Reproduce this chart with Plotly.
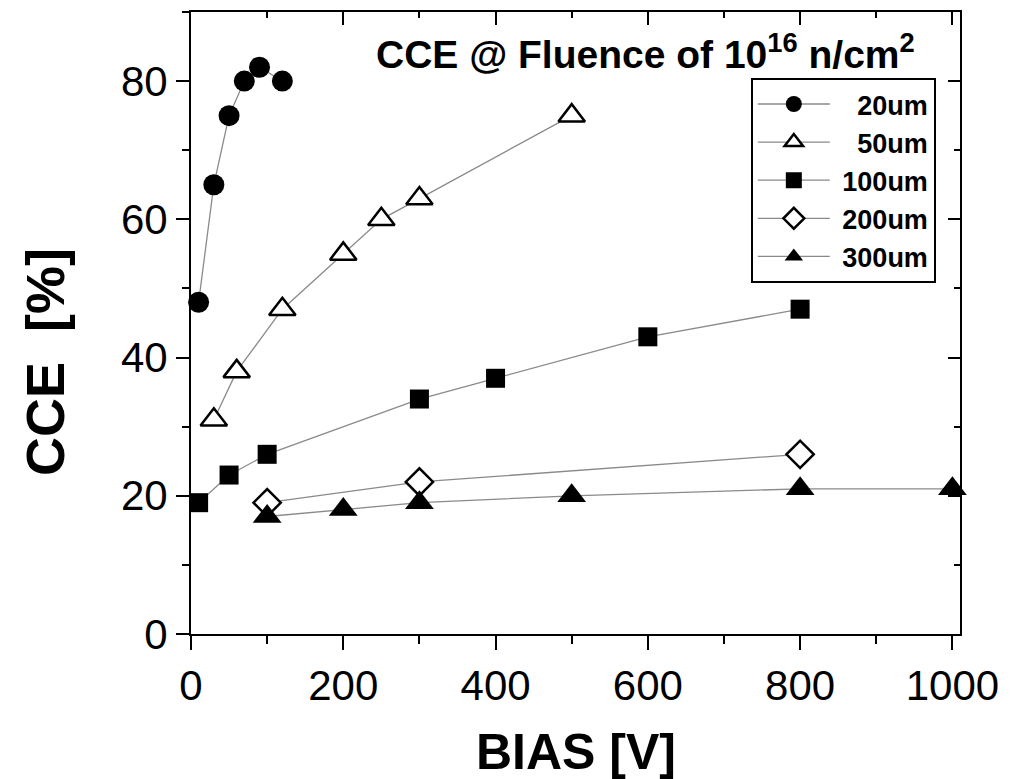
import plotly.graph_objects as go

# Bias voltage [V] and charge collection efficiency [%] per detector thickness
bias_20um = [10, 30, 50, 70, 90, 120]
cce_20um = [48, 65, 75, 80, 82, 80]

bias_50um = [30, 60, 120, 200, 250, 300, 500]
cce_50um = [31, 38, 47, 55, 60, 63, 75]

bias_100um = [10, 50, 100, 300, 400, 600, 800]
cce_100um = [19, 23, 26, 34, 37, 43, 47]

bias_200um = [100, 300, 800]
cce_200um = [19, 22, 26]

bias_300um = [100, 200, 300, 500, 800, 1000]
cce_300um = [17, 18, 19, 20, 21, 21]

x_ticks = [0, 200, 400, 600, 800, 1000]
y_ticks = [0, 20, 40, 60, 80]

NB = "\u00a0"
FONT = "Liberation Sans, Arial, Helvetica, sans-serif"
LINE = dict(color="#8a8a8a", width=1.3)

series = [
    ("20um", bias_20um, cce_20um, dict(symbol="circle", size=21, color="black")),
    ("50um", bias_50um, cce_50um,
     dict(symbol="triangle-up", size=23, color="white", line=dict(color="black", width=2.5))),
    ("100um", bias_100um, cce_100um, dict(symbol="square", size=19, color="black")),
    ("200um", bias_200um, cce_200um,
     dict(symbol="diamond", size=21, color="white", line=dict(color="black", width=2.5))),
    ("300um", bias_300um, cce_300um, dict(symbol="triangle-up", size=25, color="black")),
]

fig = go.Figure()
for name, xs, ys, marker in series:
    # right-align the legend labels with non-breaking spaces
    pad = NB + NB * 2 * (5 - len(name))
    fig.add_trace(go.Scatter(
        x=xs, y=ys, mode="lines+markers", name=pad + name,
        line=LINE, marker=marker, cliponaxis=False,
    ))

# Empty trace so the mirrored top/right frame axes get drawn
fig.add_trace(go.Scatter(x=[], y=[], xaxis="x2", yaxis="y2", showlegend=False, hoverinfo="skip"))

X_RANGE = [0, 1010]
Y_RANGE = [0, 90]

common_tick = dict(tickcolor="black", tickwidth=2)

fig.update_layout(
    width=1017, height=779,
    margin=dict(l=191, r=57, t=12, b=145),
    paper_bgcolor="white", plot_bgcolor="white",
    font=dict(family=FONT, color="black"),
    showlegend=True,
    legend=dict(
        x=0.728, y=0.894, xanchor="left", yanchor="top",
        bgcolor="white", bordercolor="black", borderwidth=2,
        font=dict(size=27, family=FONT, weight="bold"),
        itemwidth=72,
    ),
    xaxis=dict(
        range=X_RANGE, tickvals=x_ticks, showgrid=False, zeroline=False,
        showline=True, linecolor="black", linewidth=2,
        ticks="outside", ticklen=14, **common_tick,
        minor=dict(dtick=100, ticks="outside", ticklen=8, tickcolor="black", tickwidth=2, showgrid=False),
        tickfont=dict(size=42, family=FONT),
    ),
    yaxis=dict(
        range=Y_RANGE, tickvals=y_ticks, showgrid=False, zeroline=False,
        showline=True, linecolor="black", linewidth=2,
        ticks="outside", ticklen=13, **common_tick,
        minor=dict(dtick=10, ticks="outside", ticklen=7, tickcolor="black", tickwidth=2, showgrid=False),
        tickfont=dict(size=42, family=FONT),
    ),
    xaxis2=dict(
        overlaying="x", side="top", range=X_RANGE, tickvals=x_ticks,
        showgrid=False, zeroline=False, showticklabels=False,
        showline=True, linecolor="black", linewidth=2,
        ticks="inside", ticklen=13, **common_tick,
        minor=dict(dtick=100, ticks="inside", ticklen=6, tickcolor="black", tickwidth=2, showgrid=False),
    ),
    yaxis2=dict(
        overlaying="y", side="right", range=Y_RANGE, tickvals=y_ticks,
        showgrid=False, zeroline=False, showticklabels=False,
        showline=True, linecolor="black", linewidth=2,
        ticks="inside", ticklen=12, **common_tick,
        minor=dict(dtick=10, ticks="inside", ticklen=6, tickcolor="black", tickwidth=2, showgrid=False),
    ),
)

# Plot heading inside the frame
fig.add_annotation(
    text="<b>CCE @ Fluence of 10<sup>16</sup> n/cm<sup>2</sup></b>",
    xref="paper", yref="paper", x=0.238, y=0.937, xanchor="left", yanchor="middle",
    showarrow=False, font=dict(size=39, family=FONT),
)

# Axis titles
fig.add_annotation(
    text="<b>BIAS [V]</b>", xref="paper", yref="paper", x=0.5, y=-0.19,
    xanchor="center", yanchor="middle", showarrow=False, font=dict(size=50, family=FONT),
)
fig.add_annotation(
    text="<b>CCE" + NB + NB + "[%]</b>", xref="paper", yref="paper", x=-0.19, y=0.437,
    xanchor="center", yanchor="middle", textangle=-90, showarrow=False,
    font=dict(size=54, family=FONT),
)

fig.write_html("out.html")
